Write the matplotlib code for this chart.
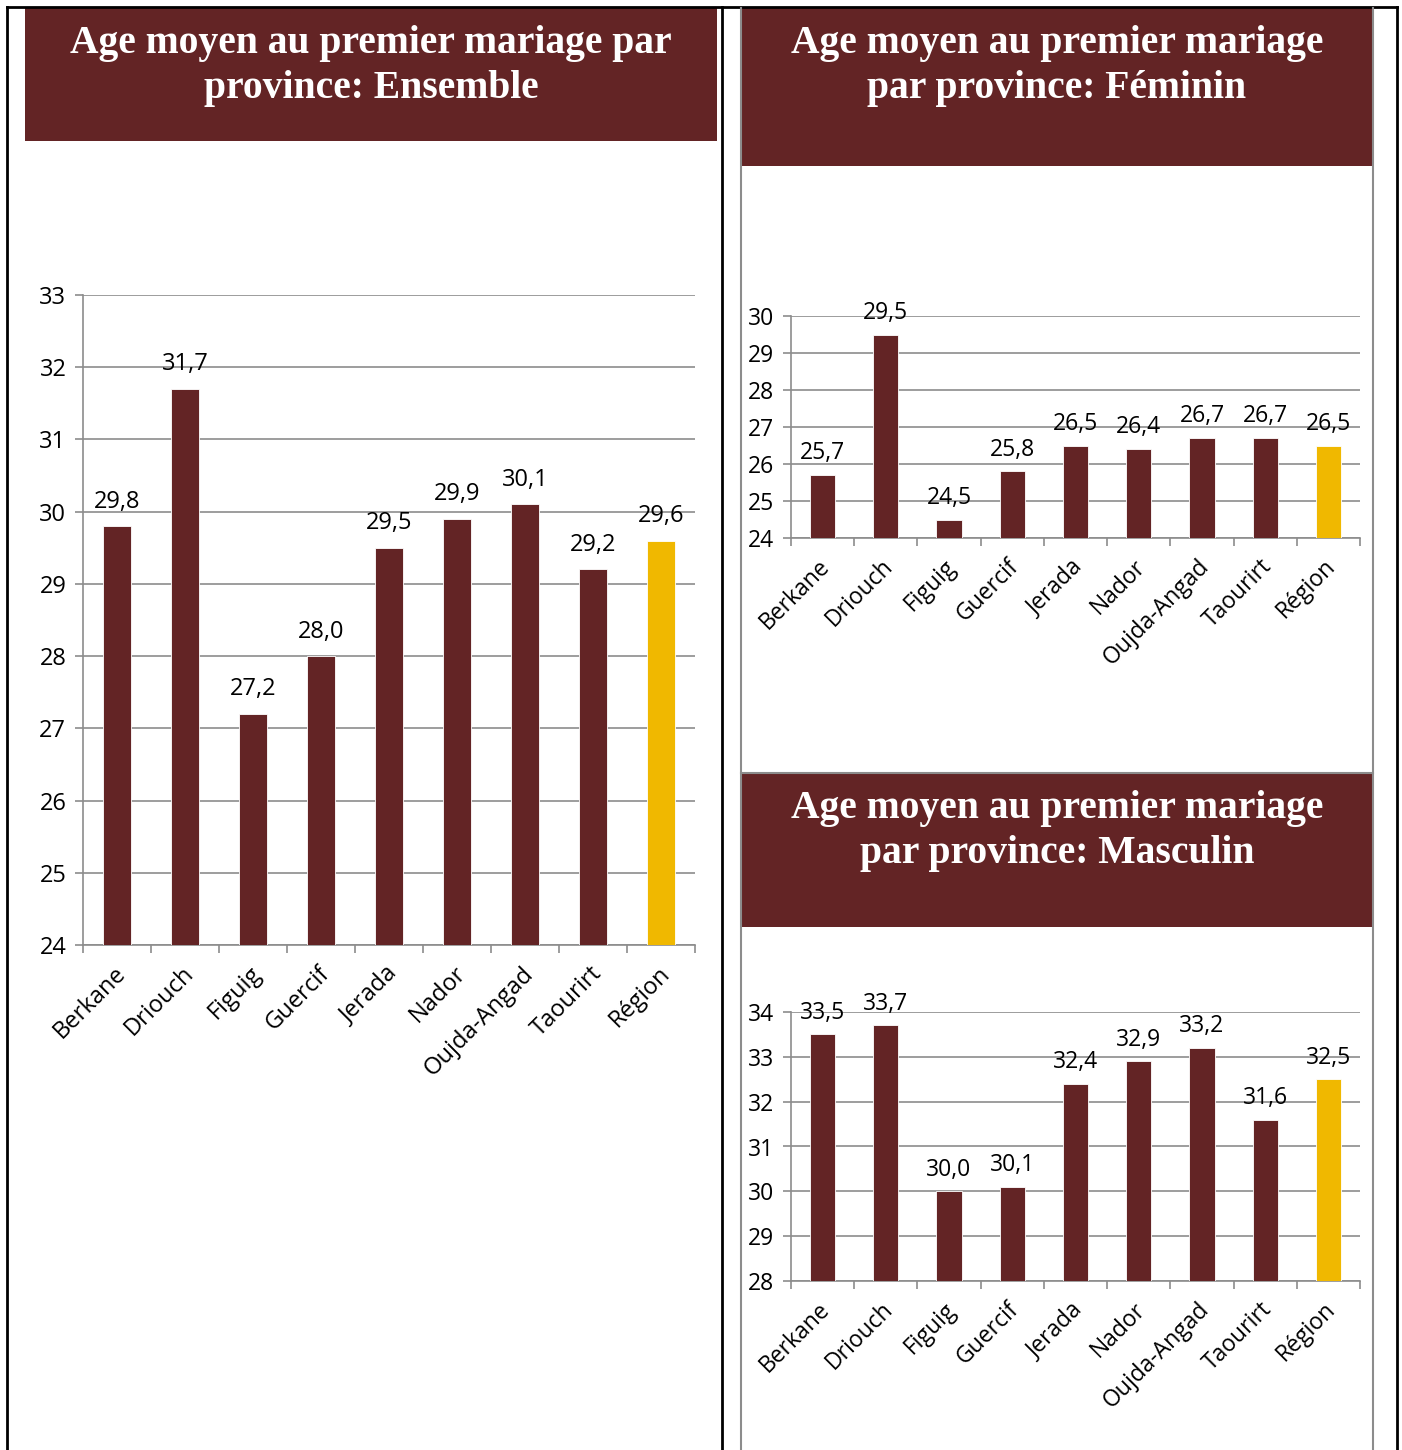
import matplotlib
matplotlib.use('Agg')
import matplotlib.pyplot as plt
from matplotlib.patches import Rectangle
from matplotlib.lines import Line2D

# data
provinces = ['Berkane', 'Driouch', 'Figuig', 'Guercif', 'Jerada', 'Nador',
             'Oujda-Angad', 'Taourirt', 'Région']
ensemble = [29.8, 31.7, 27.2, 28.0, 29.5, 29.9, 30.1, 29.2, 29.6]
feminin = [25.7, 29.5, 24.5, 25.8, 26.5, 26.4, 26.7, 26.7, 26.5]
masculin = [33.5, 33.7, 30.0, 30.1, 32.4, 32.9, 33.2, 31.6, 32.5]

titles = ['Age moyen au premier mariage par\nprovince: Ensemble',
          'Age moyen au premier mariage\npar province: Féminin',
          'Age moyen au premier mariage\npar province: Masculin']

MAROON = '#632425'
GOLD = '#F0B800'
GRID = '#8c8c8c'

W, H = 1402, 1450
fig = plt.figure(figsize=(W / 100, H / 100), dpi=100)
fig.patch.set_facecolor('white')

SANS = ['Open Sans', 'DejaVu Sans']
SERIF = ['Liberation Serif', 'DejaVu Serif']


def px_axes(x0, y0, x1, y1):
    # pixel box (top-left origin) -> figure axes
    return fig.add_axes([x0 / W, 1 - y1 / H, (x1 - x0) / W, (y1 - y0) / H])


def fig_line(xs, ys, color, lw):
    fig.add_artist(Line2D([x / W for x in xs], [1 - y / H for y in ys],
                          color=color, lw=lw, transform=fig.transFigure))


def title_box(x0, y0, x1, y1, text, ty):
    fig.add_artist(Rectangle((x0 / W, 1 - y1 / H), (x1 - x0) / W, (y1 - y0) / H,
                             facecolor=MAROON, edgecolor='none',
                             transform=fig.transFigure, zorder=1))
    fig.text((x0 + x1) / 2 / W, 1 - ty / H, text, color='white',
             fontsize=28.5, fontweight='bold', family=SERIF,
             ha='center', va='center', linespacing=1.3, zorder=2)


def bar_chart(ax, values, ymin, ymax, fs, lab_off, shift):
    x = range(len(provinces))
    colors = [MAROON] * (len(values) - 1) + [GOLD]
    ax.bar(x, values, width=0.4, color=colors, edgecolor='white',
           linewidth=0.6, zorder=3)
    ax.set_ylim(ymin, ymax)
    ax.set_xlim(-0.5, len(values) - 0.5)
    ax.set_yticks(range(ymin, ymax + 1))
    ax.yaxis.grid(True, color=GRID, lw=1.2, zorder=0)
    for s in ['top', 'right']:
        ax.spines[s].set_visible(False)
    for s in ['left', 'bottom']:
        ax.spines[s].set_color(GRID)
        ax.spines[s].set_linewidth(1.2)
    ax.tick_params(axis='y', length=6, color=GRID, width=1.2,
                   labelsize=fs, pad=6)
    ax.set_xticks([i - 0.5 for i in range(len(values) + 1)], minor=False)
    ax.set_xticklabels([])
    ax.tick_params(axis='x', length=6, color=GRID, width=1.2)
    for lab in ax.get_yticklabels():
        lab.set_family(SANS)
    for i, v in enumerate(values):
        ax.annotate(f'{v:.1f}'.replace('.', ','), (i, v), xytext=(0, lab_off),
                    textcoords='offset points', ha='center', va='bottom',
                    fontsize=fs, family=SANS, annotation_clip=False)
    for i, name in enumerate(provinces):
        ax.annotate(name, (i + shift, ymin), xytext=(0, -12),
                    textcoords='offset points', ha='right', va='top',
                    rotation=45, rotation_mode='anchor', fontsize=fs,
                    family=SANS, annotation_clip=False)
    ax.set_facecolor('none')


# frame lines
fig_line([7, 1397], [7, 7], 'black', 2)
fig_line([7, 7], [7, 1450], 'black', 2)
fig_line([722, 722], [7, 1450], 'black', 2)
fig_line([1397, 1397], [7, 1450], 'black', 2)
fig_line([741, 741], [8, 1450], GRID, 1.5)
fig_line([1373, 1373], [8, 1450], GRID, 1.5)
fig_line([741, 1373], [773, 773], GRID, 1.5)

title_box(25, 8, 717, 141, titles[0], 66)
title_box(741, 8, 1373, 166, titles[1], 66)
title_box(741, 773, 1373, 927, titles[2], 831)

ax1 = px_axes(83, 295, 695, 945)
bar_chart(ax1, ensemble, 24, 33, 17, 9, -0.05)

ax2 = px_axes(791, 316, 1360, 538)
bar_chart(ax2, feminin, 24, 30, 16.5, 7, -0.08)

ax3 = px_axes(791, 1012, 1360, 1281)
bar_chart(ax3, masculin, 28, 34, 16.5, 7, -0.08)

fig.savefig('out.png', dpi=100, facecolor='white')
